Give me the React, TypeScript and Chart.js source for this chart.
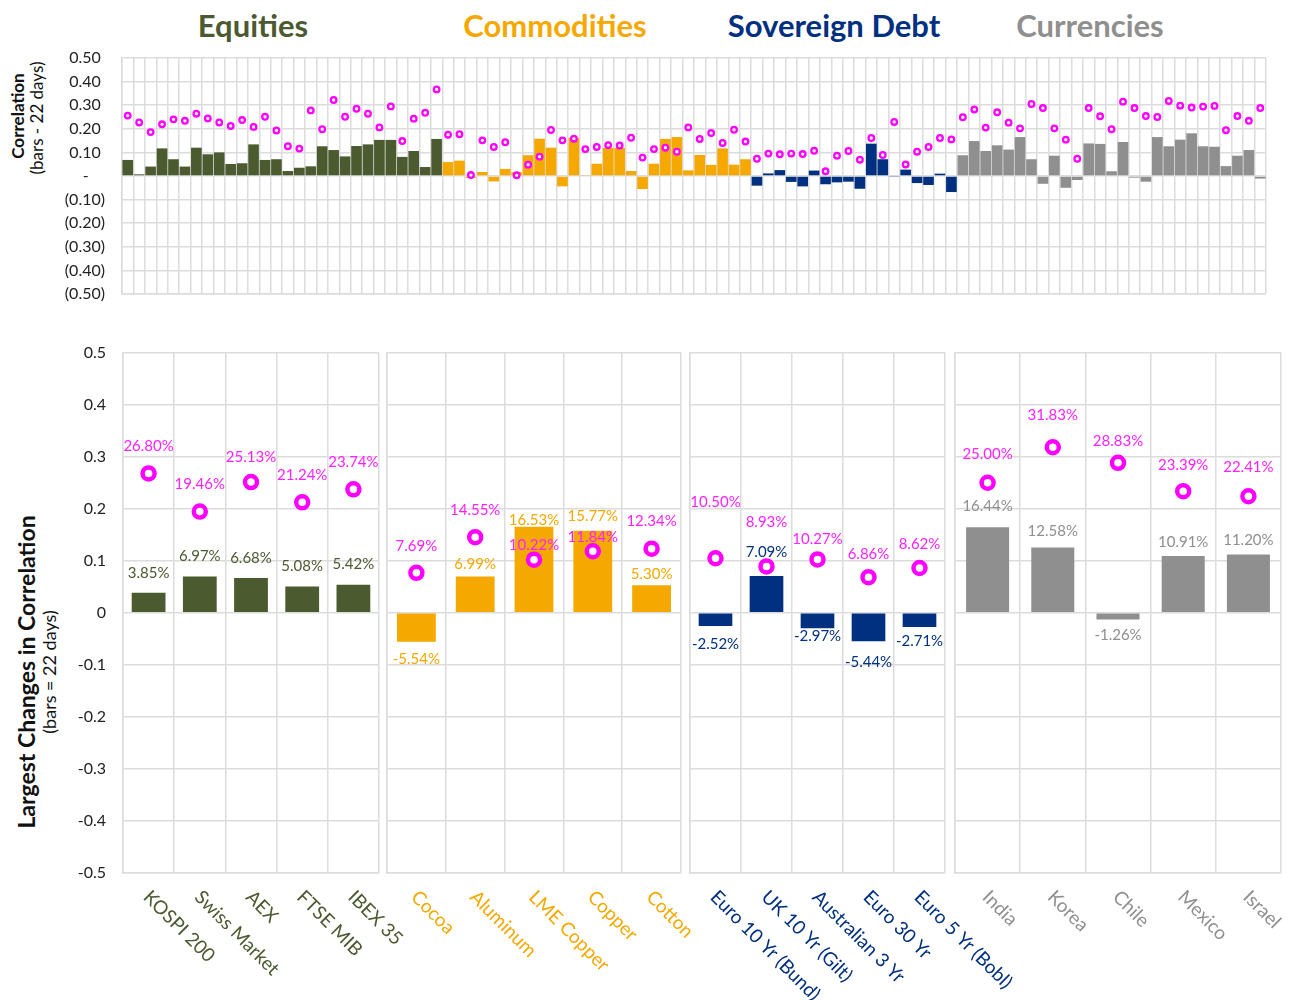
import React, { useEffect, useRef } from 'react';
import { Chart, registerables } from 'chart.js';

Chart.register(...registerables);
Chart.defaults.font.family = "Lato, 'Open Sans', sans-serif";

// ---------- group meta ----------
const groupNames = ['Equities', 'Commodities', 'Sovereign Debt', 'Currencies'];
const groupColors = ['#4b5a2f', '#f5a800', '#00307f', '#8f8f8f'];
const MAGENTA = '#ff00ff';
const MAGENTA_TEXT = '#ff22ff';
const GRID = '#dcdcdc';

// ---------- top chart data (22-day correlation bars, level dots) ----------
const equityBars = [0.068, 0.007, 0.040, 0.117, 0.071, 0.040, 0.120, 0.092, 0.100, 0.051, 0.054, 0.134, 0.068, 0.071, 0.021, 0.035, 0.041, 0.126, 0.110, 0.083, 0.127, 0.134, 0.153, 0.153, 0.081, 0.106, 0.038, 0.157];
const equityDots = [0.256, 0.227, 0.186, 0.219, 0.240, 0.234, 0.264, 0.244, 0.227, 0.212, 0.237, 0.208, 0.251, 0.193, 0.126, 0.116, 0.278, 0.198, 0.322, 0.251, 0.285, 0.264, 0.206, 0.295, 0.148, 0.243, 0.268, 0.367];
const commodityBars = [0.059, 0.065, -0.008, 0.017, -0.023, 0.030, 0.016, 0.088, 0.158, 0.120, -0.044, 0.162, 0.004, 0.052, 0.119, 0.119, 0.021, -0.055, 0.052, 0.157, 0.165, 0.024, 0.089, 0.047, 0.117, 0.048, 0.071];
const commodityDots = [0.175, 0.177, 0.004, 0.151, 0.123, 0.143, 0.003, 0.048, 0.082, 0.195, 0.151, 0.158, 0.114, 0.123, 0.131, 0.129, 0.162, 0.078, 0.114, 0.120, 0.103, 0.206, 0.157, 0.182, 0.140, 0.196, 0.146];
const sovereignBars = [-0.041, 0.011, 0.025, -0.025, -0.044, 0.023, -0.035, -0.027, -0.024, -0.054, 0.137, 0.071, -0.002, 0.027, -0.030, -0.038, 0.010, -0.068];
const sovereignDots = [0.073, 0.095, 0.092, 0.095, 0.093, 0.107, 0.020, 0.086, 0.106, 0.069, 0.161, 0.089, 0.229, 0.049, 0.103, 0.123, 0.161, 0.155];
const currencyBars = [0.088, 0.148, 0.106, 0.130, 0.112, 0.165, 0.071, -0.033, 0.086, -0.050, -0.017, 0.138, 0.136, 0.020, 0.144, -0.007, -0.024, 0.165, 0.126, 0.154, 0.181, 0.126, 0.124, 0.042, 0.086, 0.110, -0.011];
const currencyDots = [0.249, 0.282, 0.205, 0.270, 0.226, 0.202, 0.305, 0.288, 0.202, 0.154, 0.073, 0.288, 0.253, 0.198, 0.315, 0.288, 0.254, 0.250, 0.318, 0.298, 0.290, 0.294, 0.297, 0.194, 0.254, 0.234, 0.288];
const topTicks = [-0.5, -0.4, -0.3, -0.2, -0.1, 0, 0.1, 0.2, 0.3, 0.4, 0.5];

// ---------- bottom panels data ----------
const equityNames = ['KOSPI 200', 'Swiss Market', 'AEX', 'FTSE MIB', 'IBEX 35'];
const equityChange = [0.0385, 0.0697, 0.0668, 0.0508, 0.0542];
const equityLevel = [0.2680, 0.1946, 0.2513, 0.2124, 0.2374];
const commodityNames = ['Cocoa', 'Aluminum', 'LME Copper', 'Copper', 'Cotton'];
const commodityChange = [-0.0554, 0.0699, 0.1653, 0.1577, 0.0530];
const commodityLevel = [0.0769, 0.1455, 0.1022, 0.1184, 0.1234];
const sovereignNames = ['Euro 10 Yr (Bund)', 'UK 10 Yr (Gilt)', 'Australian 3 Yr', 'Euro 30 Yr', 'Euro 5 Yr (Bobl)'];
const sovereignChange = [-0.0252, 0.0709, -0.0297, -0.0544, -0.0271];
const sovereignLevel = [0.1050, 0.0893, 0.1027, 0.0686, 0.0862];
const currencyNames = ['India', 'Korea', 'Chile', 'Mexico', 'Israel'];
const currencyChange = [0.1644, 0.1258, -0.0126, 0.1091, 0.1120];
const currencyLevel = [0.2500, 0.3183, 0.2883, 0.2339, 0.2241];

// label nudges (pixels, styling only)
const equityBarOff = [-20, -20, -20, -20, -20];
const equityDotOff = [-27, -27, -25, -27, -27];
const commodityBarOff = [17, -12, -7, -15, -11];
const commodityDotOff = [-27, -27, -15, -14, -27];
const sovereignBarOff = [18, -24, 8, 21, 14];
const sovereignDotOff = [-56, -44, -20, -23, -24];
const currencyBarOff = [-21, -16, 16, -14, -14];
const currencyDotOff = [-29, -32, -22, -26, -29];

const pct = (v: number) => (v * 100).toFixed(2) + '%';

function TopChart() {
  const ref = useRef<HTMLCanvasElement>(null);
  useEffect(() => {
    const groups = [equityBars, commodityBars, sovereignBars, currencyBars];
    const bars = [...equityBars, ...commodityBars, ...sovereignBars, ...currencyBars];
    const dots = [...equityDots, ...commodityDots, ...sovereignDots, ...currencyDots];
    const colors: string[] = [];
    groups.forEach((g, gi) => g.forEach(() => colors.push(groupColors[gi])));
    const labels = bars.map((_, i) => String(i + 1));
    const chart = new Chart(ref.current as HTMLCanvasElement, {
      type: 'bar',
      data: {
        labels,
        datasets: [
          {
            type: 'line',
            data: dots,
            showLine: false,
            pointRadius: 2.8,
            pointBorderWidth: 2.3,
            pointBackgroundColor: '#ffffff',
            pointBorderColor: MAGENTA,
            order: 0,
          } as any,
          {
            type: 'bar',
            data: bars,
            backgroundColor: colors,
            borderWidth: 0,
            barPercentage: 0.93,
            categoryPercentage: 1,
            order: 1,
          },
        ],
      },
      options: {
        responsive: false,
        animation: false,
        layout: { autoPadding: false, padding: { top: 18, right: 14, left: 0, bottom: 0 } },
        plugins: { legend: { display: false }, tooltip: { enabled: false } },
        scales: {
          x: {
            grid: { color: GRID, lineWidth: 1.5, offset: true, drawTicks: false },
            border: { color: GRID, width: 1.5 },
            ticks: { display: false },
            afterFit: (s: any) => { s.height = 16; },
          },
          y: {
            min: -0.5,
            max: 0.5,
            afterBuildTicks: (s: any) => { s.ticks = topTicks.map((v) => ({ value: v })); },
            ticks: {
              font: { size: 16 },
              color: '#222',
              padding: 17,
              callback: (v: any) => {
                const n = Number(v);
                if (Math.abs(n) < 1e-9) return '-    ';
                if (n < 0) return '(' + Math.abs(n).toFixed(2) + ')';
                return n.toFixed(2) + ' ';
              },
            },
            grid: { color: GRID, lineWidth: 1.5, drawTicks: false },
            border: { color: GRID, width: 1.5 },
            afterFit: (s: any) => { s.width = 122; s.paddingTop = 0; s.paddingBottom = 0; },
          },
        },
      } as any,
    });
    return () => chart.destroy();
  }, []);
  return (
    <canvas
      ref={ref}
      width={1280}
      height={270}
      style={{ position: 'absolute', left: 0, top: 40, width: 1280, height: 270 }}
    />
  );
}

type PanelProps = {
  left: number;
  right: number;
  names: string[];
  change: number[];
  level: number[];
  color: string;
  showY: boolean;
  barOff: number[];
  dotOff: number[];
};

function Panel(p: PanelProps) {
  const ref = useRef<HTMLCanvasElement>(null);
  const canvasLeft = p.showY ? 0 : p.left - 10;
  const padLeft = p.showY ? 0 : 10;
  const yW = p.showY ? 123 : 0;
  const padRight = 150;
  const width = Math.round(p.right - canvasLeft + padRight);
  const top = 330;
  const height = 670;
  useEffect(() => {
    const labelPlugin = {
      id: 'panelLabels',
      afterDatasetsDraw(chart: any) {
        const ctx = chart.ctx as CanvasRenderingContext2D;
        ctx.save();
        ctx.font = '15px Lato';
        ctx.textAlign = 'center';
        ctx.textBaseline = 'middle';
        const barMeta = chart.getDatasetMeta(1);
        barMeta.data.forEach((el: any, i: number) => {
          ctx.fillStyle = p.color;
          ctx.fillText(pct(p.change[i]), el.x, el.y + p.barOff[i]);
        });
        const dotMeta = chart.getDatasetMeta(0);
        dotMeta.data.forEach((el: any, i: number) => {
          ctx.fillStyle = MAGENTA_TEXT;
          ctx.fillText(pct(p.level[i]), el.x, el.y + p.dotOff[i]);
        });
        const xs = chart.scales.x;
        ctx.font = '19px Lato';
        ctx.textAlign = 'left';
        ctx.fillStyle = p.color;
        p.names.forEach((n, i) => {
          const x = xs.getPixelForTick(i);
          ctx.save();
          ctx.translate(x - 2, chart.chartArea.bottom + 21);
          ctx.rotate(Math.PI / 4);
          ctx.fillText(n, 0, 0);
          ctx.restore();
        });
        ctx.restore();
      },
    };
    const chart = new Chart(ref.current as HTMLCanvasElement, {
      type: 'bar',
      data: {
        labels: p.names,
        datasets: [
          {
            type: 'line',
            data: p.level,
            showLine: false,
            pointRadius: 6,
            pointBorderWidth: 4.5,
            pointBackgroundColor: '#ffffff',
            pointBorderColor: MAGENTA,
            order: 0,
          } as any,
          {
            type: 'bar',
            data: p.change,
            backgroundColor: p.color,
            borderWidth: 0,
            barPercentage: 0.66,
            categoryPercentage: 1,
            order: 1,
          },
        ],
      },
      options: {
        responsive: false,
        animation: false,
        layout: { autoPadding: false, padding: { top: 22.7, right: padRight, left: padLeft, bottom: 0 } },
        plugins: { legend: { display: false }, tooltip: { enabled: false } },
        scales: {
          x: {
            grid: { color: GRID, lineWidth: 1.5, offset: true, drawTicks: false },
            border: { color: GRID, width: 1.5 },
            ticks: { display: false },
            afterFit: (s: any) => { s.height = 127; },
          },
          y: {
            min: -0.5,
            max: 0.5,
            afterBuildTicks: (s: any) => { s.ticks = topTicks.map((v) => ({ value: v })); },
            ticks: {
              display: p.showY,
              font: { size: 16 },
              color: '#222',
              padding: 17,
              callback: (v: any) => {
                const n = Number(v);
                if (Math.abs(n) < 1e-9) return '0';
                return n.toFixed(1);
              },
            },
            grid: { color: GRID, lineWidth: 1.5, drawTicks: false },
            border: { color: GRID, width: 1.5 },
            afterFit: (s: any) => { s.width = yW; s.paddingTop = 0; s.paddingBottom = 0; },
          },
        },
      } as any,
      plugins: [labelPlugin],
    });
    return () => chart.destroy();
  }, []);
  return (
    <canvas
      ref={ref}
      width={width}
      height={height}
      style={{ position: 'absolute', left: canvasLeft, top, width, height }}
    />
  );
}

const rotated = (cx: number, cy: number, text: string, size: number, weight: number) => (
  <div
    style={{
      position: 'absolute',
      left: cx,
      top: cy,
      transform: 'translate(-50%, -50%) rotate(-90deg)',
      whiteSpace: 'nowrap',
      fontFamily: 'Lato, sans-serif',
      fontSize: size,
      fontWeight: weight,
      color: '#111',
      lineHeight: 1,
    }}
  >
    {text}
  </div>
);

const titleCenters = [253, 555, 834, 1090];

export default function App() {
  return (
    <div style={{ position: 'absolute', left: 0, top: 0, width: 1294, height: 1000, background: '#fff', overflow: 'hidden' }}>
      {groupNames.map((g, i) => (
        <div
          key={g}
          style={{
            position: 'absolute',
            left: titleCenters[i],
            top: 25,
            transform: 'translate(-50%, -50%)',
            whiteSpace: 'nowrap',
            fontFamily: 'Lato, sans-serif',
            fontWeight: 700,
            fontSize: 31,
            color: groupColors[i],
            lineHeight: 1,
          }}
        >
          {g}
        </div>
      ))}
      {rotated(17, 116, 'Correlation', 17, 700)}
      {rotated(36, 118, '(bars - 22 days)', 17, 400)}
      {rotated(26, 672, 'Largest Changes in Correlation', 23, 700)}
      {rotated(49, 672, '(bars = 22 days)', 18, 400)}
      <TopChart />
      <Panel left={123} right={379} names={equityNames} change={equityChange} level={equityLevel} color={groupColors[0]} showY={true} barOff={equityBarOff} dotOff={equityDotOff} />
      <Panel left={387} right={681} names={commodityNames} change={commodityChange} level={commodityLevel} color={groupColors[1]} showY={false} barOff={commodityBarOff} dotOff={commodityDotOff} />
      <Panel left={690} right={945} names={sovereignNames} change={sovereignChange} level={sovereignLevel} color={groupColors[2]} showY={false} barOff={sovereignBarOff} dotOff={sovereignDotOff} />
      <Panel left={955} right={1281} names={currencyNames} change={currencyChange} level={currencyLevel} color={groupColors[3]} showY={false} barOff={currencyBarOff} dotOff={currencyDotOff} />
    </div>
  );
}
